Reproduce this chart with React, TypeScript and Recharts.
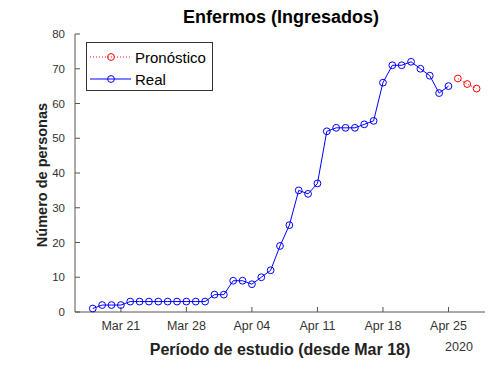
import React from "react";
import { LineChart, Line, XAxis, YAxis } from "recharts";

// Days counted from Mar 18, 2020 (day 0)
const realDays = Array.from({ length: 39 }, (_, i) => i);
const realValues = [
  1, 2, 2, 2, 3, 3, 3, 3, 3, 3, 3, 3, 3, 5, 5, 9, 9, 8, 10, 12, 19, 25, 35, 34,
  37, 52, 53, 53, 53, 54, 55, 66, 71, 71, 72, 70, 68, 63, 65,
];
const forecastDays = [39, 40, 41];
const forecastValues = [67.2, 65.6, 64.3];

const xTickDays = [3, 10, 17, 24, 31, 38];
const xTickLabels = ["Mar 21", "Mar 28", "Apr 04", "Apr 11", "Apr 18", "Apr 25"];
const yTicks = [0, 10, 20, 30, 40, 50, 60, 70, 80];

const seriesNames = ["Pronóstico", "Real"];

const data = [
  ...realDays.map((d, i) => ({ day: d, real: realValues[i] })),
  ...forecastDays.map((d, i) => ({ day: d, forecast: forecastValues[i] })),
];

const FONT = "'Liberation Sans', Arial, Helvetica, sans-serif";
const AXIS = "#555555";
const TEXT = "#333333";

const LegendBox = () => (
  <svg
    width={128}
    height={50}
    style={{ position: "absolute", left: 86, top: 42, fontFamily: FONT }}
  >
    <rect x={0.5} y={0.5} width={126} height={48} fill="#fff" stroke="#333" strokeWidth={1} />
    <line x1={4} y1={15} x2={45} y2={15} stroke="#ff0000" strokeWidth={1} strokeDasharray="1 2" />
    <circle cx={25} cy={15} r={3.4} fill="none" stroke="#ff0000" strokeWidth={1} />
    <text x={49} y={20.5} fontSize={15} fill="#000">{seriesNames[0]}</text>
    <line x1={4} y1={37} x2={45} y2={37} stroke="#0000ff" strokeWidth={1} />
    <circle cx={25} cy={37} r={3.4} fill="none" stroke="#0000ff" strokeWidth={1} />
    <text x={49} y={42.5} fontSize={15} fill="#000">{seriesNames[1]}</text>
  </svg>
);

export default function App() {
  return (
    <div
      style={{
        position: "fixed",
        left: 0,
        top: 0,
        width: 489,
        height: 377,
        background: "#fff",
        fontFamily: FONT,
      }}
    >
      <LineChart
        width={489}
        height={377}
        data={data}
        margin={{ top: 34, right: 4, bottom: 35, left: 0 }}
      >
        <XAxis
          type="number"
          dataKey="day"
          domain={[-1.9, 41.9]}
          ticks={xTickDays}
          tickFormatter={(v) => xTickLabels[xTickDays.indexOf(v)] ?? ""}
          height={30}
          tickSize={-5}
          tickMargin={14}
          stroke={AXIS}
          tick={{ fill: TEXT, fontSize: 12.5, fontFamily: FONT }}
          interval={0}
          allowDataOverflow
        />
        <YAxis
          type="number"
          domain={[0, 80]}
          ticks={yTicks}
          width={75}
          tickSize={-5}
          tickMargin={15}
          stroke={AXIS}
          tick={{ fill: TEXT, fontSize: 11.5, fontFamily: FONT }}
          interval={0}
        />
        <Line
          dataKey="real"
          stroke="#0000ff"
          strokeWidth={1}
          dot={{ r: 3.4, fill: "none", stroke: "#0000ff", strokeWidth: 1 }}
          isAnimationActive={false}
          connectNulls={false}
        />
        <Line
          dataKey="forecast"
          stroke="#ff0000"
          strokeWidth={1}
          strokeDasharray="1 2"
          dot={{ r: 3.4, fill: "none", stroke: "#ff0000", strokeWidth: 1, strokeDasharray: "0" }}
          isAnimationActive={false}
          connectNulls={false}
        />
        <text x={281} y={23} textAnchor="middle" fontSize={18} fontWeight="bold" fontFamily={FONT} fill="#000">
          Enfermos (Ingresados)
        </text>
        <text x={280} y={355} textAnchor="middle" fontSize={16} fontWeight="bold" fontFamily={FONT} fill="#222">
          Período de estudio (desde Mar 18)
        </text>
        <text x={459} y={351} textAnchor="middle" fontSize={12.5} fontFamily={FONT} fill={TEXT}>
          2020
        </text>
        <text
          x={0}
          y={0}
          transform="translate(47,175) rotate(-90)"
          textAnchor="middle"
          fontSize={14.5}
          fontWeight="bold"
          fontFamily={FONT}
          fill="#222"
        >
          Número de personas
        </text>
      </LineChart>
      <LegendBox />
    </div>
  );
}
